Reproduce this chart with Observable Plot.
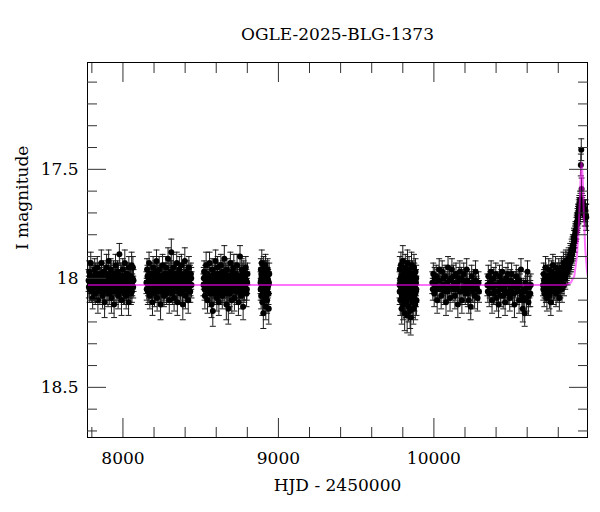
<!DOCTYPE html>
<html><head><meta charset="utf-8">
<script src="https://cdn.jsdelivr.net/npm/d3@7"></script>
<script src="https://cdn.jsdelivr.net/npm/@observablehq/plot@0.6"></script>
<style>body{margin:0;background:#fff}</style>
</head><body><div id="chart"></div>
<script>
const titleText = "OGLE-2025-BLG-1373";
const xLabelText = "HJD - 2450000";
const yLabelText = "I magnitude";

// [HJD-2450000, I mag, error]
const season1 = [[7779,18.01,.05],[7783,17.97,.05],[7786,18.05,.06],[7790,18.02,.05],[7793,17.93,.05],[7797,18.06,.05],[7801,18.00,.06],[7805,18.09,.05],[7809,17.99,.05],[7813,18.03,.06],[7818,17.96,.05],[7822,18.07,.05],[7826,18.01,.05],[7830,18.04,.06],[7835,17.95,.05],[7839,18.10,.06],[7843,18.02,.05],[7848,17.98,.05],[7852,18.06,.06],[7856,18.00,.05],[7861,17.93,.06],[7865,18.04,.05],[7869,18.08,.06],[7874,17.97,.05],[7878,18.03,.05],[7882,18.11,.07],[7887,17.99,.05],[7891,18.05,.05],[7895,17.95,.06],[7900,18.02,.05],[7904,18.07,.06],[7908,17.92,.05],[7913,18.01,.05],[7917,18.04,.06],[7921,17.96,.05],[7926,18.09,.07],[7930,18.00,.05],[7934,18.05,.05],[7939,17.98,.06],[7943,18.12,.06],[7947,18.03,.05],[7952,17.94,.05],[7956,18.06,.06],[7960,18.01,.05],[7965,17.97,.05],[7969,18.08,.06],[7973,18.02,.05],[7977,17.89,.05],[7982,18.04,.05],[7986,17.99,.06],[7991,18.10,.07],[7995,18.03,.05],[7999,17.96,.05],[8004,18.06,.06],[8008,18.01,.05],[8012,17.93,.06],[8017,18.05,.05],[8021,18.08,.06],[8025,17.98,.05],[8030,18.02,.05],[8036,18.11,.06],[8038,17.95,.05],[8043,18.04,.05],[8047,18.00,.06],[8051,18.07,.05],[8056,17.94,.06],[8060,18.03,.05],[8064,17.95,.05],[8068,18.01,.05]];
const season1b = [[7781,18.04,.05],[7788,17.99,.05],[7795,18.02,.05],[7803,18.05,.05],[7811,18.00,.05],[7816,18.06,.05],[7824,17.98,.05],[7833,18.03,.05],[7841,18.06,.05],[7846,17.99,.05],[7854,18.03,.05],[7859,18.05,.05],[7863,17.98,.05],[7871,18.02,.05],[7876,18.06,.05],[7885,18.01,.05],[7893,17.98,.05],[7898,18.05,.05],[7906,18.03,.05],[7911,17.99,.05],[7915,18.07,.05],[7919,18.02,.05],[7924,17.98,.05],[7928,18.04,.05],[7937,18.01,.05],[7941,18.06,.05],[7945,17.99,.05],[7950,18.03,.05],[7958,18.00,.05],[7963,18.05,.05],[7967,18.02,.05],[7971,17.98,.05],[7975,18.06,.05],[7980,18.01,.05],[7984,18.03,.05],[7989,17.99,.05],[7993,18.05,.05],[7997,18.02,.05],[8002,17.99,.05],[8006,18.04,.05],[8010,18.07,.05],[8015,18.00,.05],[8019,18.03,.05],[8023,18.05,.05],[8027,17.98,.05],[8032,18.04,.05],[8040,18.01,.05],[8045,18.06,.05],[8049,17.99,.05],[8053,18.03,.05],[8058,18.06,.05],[8062,18.00,.05],[8066,18.04,.05]];
const season2 = [[8151,18.02,.05],[8155,17.96,.05],[8160,18.06,.06],[8164,18.00,.05],[8168,17.93,.05],[8173,18.08,.06],[8177,18.03,.05],[8181,17.98,.05],[8186,18.05,.06],[8190,18.11,.06],[8194,17.95,.05],[8199,18.01,.05],[8203,18.07,.06],[8207,17.97,.05],[8212,18.04,.05],[8216,17.92,.05],[8220,18.09,.06],[8225,18.00,.05],[8229,18.03,.05],[8233,17.96,.06],[8238,18.06,.05],[8242,18.12,.07],[8246,17.99,.05],[8251,18.02,.05],[8255,17.94,.05],[8259,18.05,.06],[8264,18.08,.05],[8268,17.98,.05],[8272,18.01,.06],[8277,17.95,.05],[8281,18.07,.05],[8285,18.03,.06],[8290,17.91,.05],[8294,18.00,.05],[8298,18.10,.06],[8303,17.97,.05],[8307,18.04,.05],[8311,17.88,.06],[8316,18.06,.05],[8320,18.01,.05],[8324,17.95,.06],[8329,18.09,.06],[8333,18.02,.05],[8337,17.98,.05],[8342,18.05,.06],[8346,17.93,.05],[8350,18.11,.06],[8355,18.00,.05],[8359,18.03,.05],[8363,17.96,.06],[8368,18.07,.05],[8372,18.01,.05],[8376,17.94,.05],[8381,18.05,.06],[8385,18.12,.07],[8389,17.99,.05],[8394,18.03,.05],[8398,17.92,.06],[8402,18.08,.06],[8407,18.01,.05],[8411,17.97,.05],[8415,18.04,.06],[8420,18.10,.06],[8424,17.95,.05],[8428,18.02,.05],[8433,18.06,.05],[8437,17.98,.05],[8441,18.03,.06]];
const season2b = [[8153,18.05,.05],[8158,17.99,.05],[8162,18.03,.05],[8166,18.06,.05],[8171,18.00,.05],[8175,17.98,.05],[8179,18.04,.05],[8184,18.01,.05],[8188,18.06,.05],[8192,17.99,.05],[8197,18.04,.05],[8201,18.02,.05],[8205,17.98,.05],[8210,18.06,.05],[8214,18.01,.05],[8218,18.04,.05],[8223,17.98,.05],[8227,18.06,.05],[8231,18.02,.05],[8236,17.99,.05],[8240,18.04,.05],[8244,18.01,.05],[8249,18.06,.05],[8253,17.99,.05],[8257,18.03,.05],[8262,18.00,.05],[8266,18.05,.05],[8270,18.02,.05],[8275,17.98,.05],[8279,18.04,.05],[8283,18.00,.05],[8288,18.06,.05],[8292,18.03,.05],[8296,17.98,.05],[8301,18.05,.05],[8305,18.01,.05],[8309,17.97,.05],[8314,18.03,.05],[8318,18.07,.05],[8322,18.00,.05],[8327,18.04,.05],[8331,17.98,.05],[8335,18.05,.05],[8340,18.02,.05],[8344,17.99,.05],[8348,18.04,.05],[8353,18.06,.05],[8357,17.98,.05],[8361,18.03,.05],[8366,18.01,.05],[8370,18.05,.05],[8374,17.99,.05],[8379,18.02,.05],[8383,18.06,.05],[8387,18.01,.05],[8392,17.98,.05],[8396,18.04,.05],[8400,18.00,.05],[8405,18.05,.05],[8409,18.02,.05],[8413,17.99,.05],[8418,18.04,.05],[8422,18.01,.05],[8426,18.06,.05],[8431,17.99,.05],[8435,18.03,.05],[8439,18.00,.05]];
const season3 = [[8518,18.03,.05],[8522,17.97,.05],[8527,18.08,.06],[8531,18.01,.05],[8535,17.94,.06],[8540,18.05,.05],[8544,18.10,.06],[8548,17.99,.05],[8553,18.03,.05],[8557,17.93,.05],[8561,18.07,.06],[8566,18.00,.05],[8570,18.12,.06],[8574,17.96,.05],[8578,18.15,.07],[8583,18.04,.05],[8587,17.98,.05],[8591,18.06,.06],[8596,17.92,.05],[8600,18.02,.05],[8604,18.09,.06],[8609,17.95,.05],[8613,18.03,.05],[8617,18.11,.06],[8622,17.98,.05],[8626,18.05,.06],[8630,17.94,.05],[8635,18.01,.05],[8639,18.08,.06],[8643,17.97,.05],[8648,18.04,.05],[8652,17.91,.06],[8656,18.06,.05],[8661,18.00,.05],[8665,18.12,.07],[8669,17.96,.05],[8674,18.03,.05],[8678,18.14,.07],[8682,17.99,.05],[8687,18.07,.06],[8691,17.93,.05],[8695,18.02,.05],[8700,18.10,.06],[8704,17.97,.05],[8708,18.05,.05],[8713,17.95,.06],[8717,18.09,.06],[8721,18.01,.05],[8726,17.98,.05],[8730,18.06,.06],[8734,17.94,.05],[8739,18.03,.05],[8743,18.11,.06],[8747,17.99,.05],[8753,17.90,.05],[8756,18.04,.05],[8760,18.08,.06],[8764,17.96,.05],[8769,18.02,.05],[8773,18.13,.06],[8777,17.97,.05],[8782,18.05,.05],[8786,18.00,.06],[8790,17.95,.05],[8795,18.07,.06],[8799,18.02,.05]];
const season3b = [[8520,18.00,.05],[8525,18.05,.05],[8529,17.99,.05],[8533,18.04,.05],[8538,18.01,.05],[8542,17.98,.05],[8546,18.06,.05],[8551,18.02,.05],[8555,18.05,.05],[8559,17.99,.05],[8564,18.04,.05],[8568,18.01,.05],[8572,18.06,.05],[8576,18.00,.05],[8581,18.03,.05],[8585,18.07,.05],[8589,17.99,.05],[8594,18.04,.05],[8598,18.01,.05],[8602,18.06,.05],[8607,17.98,.05],[8611,18.05,.05],[8615,18.02,.05],[8620,18.07,.05],[8624,18.00,.05],[8628,18.04,.05],[8633,17.98,.05],[8637,18.05,.05],[8641,18.02,.05],[8646,17.99,.05],[8650,18.06,.05],[8654,18.03,.05],[8659,17.98,.05],[8663,18.04,.05],[8667,18.01,.05],[8672,18.07,.05],[8676,18.02,.05],[8680,17.99,.05],[8685,18.05,.05],[8689,18.01,.05],[8693,18.06,.05],[8698,17.99,.05],[8702,18.03,.05],[8706,18.00,.05],[8711,18.05,.05],[8715,18.02,.05],[8719,17.98,.05],[8724,18.04,.05],[8728,18.01,.05],[8732,18.06,.05],[8737,17.99,.05],[8741,18.04,.05],[8745,18.02,.05],[8750,18.06,.05],[8758,18.00,.05],[8762,18.03,.05],[8767,17.98,.05],[8771,18.05,.05],[8775,18.01,.05],[8780,18.06,.05],[8784,17.99,.05],[8788,18.03,.05],[8793,18.01,.05],[8797,18.05,.05],[8801,17.98,.05]];
const season4 = [[8885,18.02,.05],[8887,17.96,.05],[8889,18.08,.06],[8891,18.00,.05],[8893,17.93,.06],[8895,18.05,.05],[8897,18.11,.06],[8899,17.98,.05],[8901,18.03,.05],[8903,18.16,.07],[8905,17.95,.05],[8907,18.06,.06],[8909,18.01,.05],[8911,17.97,.05],[8913,18.09,.06],[8915,18.04,.05],[8917,17.94,.05],[8919,18.13,.06],[8921,18.00,.05],[8923,18.06,.05],[8925,17.99,.06],[8927,18.10,.06],[8929,18.02,.05],[8931,17.96,.05],[8933,18.07,.06],[8935,18.03,.05],[8938,18.14,.07],[8941,17.98,.05]];
const season4b = [[8886,18.05,.05],[8888,18.01,.05],[8890,17.98,.05],[8892,18.04,.05],[8894,18.02,.05],[8896,17.99,.05],[8898,18.06,.05],[8900,18.01,.05],[8902,18.04,.05],[8904,17.99,.05],[8906,18.03,.05],[8908,18.07,.05],[8910,18.00,.05],[8912,18.05,.05],[8914,18.02,.05],[8916,17.98,.05],[8918,18.04,.05],[8920,18.01,.05],[8922,18.08,.05],[8924,18.03,.05],[8926,17.97,.05],[8928,18.05,.05],[8930,18.00,.05],[8932,18.04,.05],[8934,18.01,.05],[8936,18.07,.05],[8939,18.02,.05]];
const season5 = [[9779,18.03,.06],[9781,17.96,.06],[9784,18.10,.07],[9786,18.00,.06],[9788,17.94,.06],[9791,18.07,.07],[9793,18.14,.07],[9795,17.99,.06],[9798,18.05,.06],[9800,17.92,.07],[9802,18.12,.07],[9805,18.02,.06],[9807,17.97,.06],[9809,18.08,.07],[9812,18.16,.08],[9814,18.01,.06],[9816,17.95,.06],[9819,18.06,.07],[9821,18.11,.07],[9823,17.98,.06],[9826,18.04,.06],[9828,18.17,.08],[9830,17.93,.06],[9833,18.09,.07],[9835,18.00,.06],[9837,18.13,.07],[9840,17.96,.06],[9842,18.06,.07],[9844,18.02,.06],[9847,18.15,.08],[9849,17.99,.06],[9851,18.18,.08],[9854,18.07,.07],[9856,17.94,.06],[9858,18.03,.06],[9861,18.11,.07],[9863,17.98,.06],[9865,18.05,.06],[9868,18.14,.07],[9870,18.01,.06],[9872,17.95,.06],[9875,18.08,.07],[9877,18.03,.06],[9880,18.12,.07],[9882,17.97,.06],[9884,18.06,.07],[9886,18.00,.06],[9888,18.10,.07]];
const season5b = [[9780,18.06,.06],[9783,18.01,.06],[9787,18.04,.06],[9790,17.99,.06],[9794,18.08,.06],[9797,18.02,.06],[9801,18.05,.06],[9804,17.98,.06],[9808,18.03,.06],[9811,18.07,.06],[9815,18.00,.06],[9818,18.10,.06],[9822,18.04,.06],[9825,17.99,.06],[9829,18.06,.06],[9832,18.02,.06],[9836,18.08,.06],[9839,18.03,.06],[9843,17.98,.06],[9846,18.05,.06],[9850,18.01,.06],[9853,18.09,.06],[9857,18.04,.06],[9860,17.99,.06],[9864,18.07,.06],[9867,18.02,.06],[9871,18.05,.06],[9874,17.99,.06],[9878,18.04,.06],[9881,18.07,.06],[9885,18.02,.06],[9887,18.05,.06]];
const season6 = [[9990,18.02,.05],[9996,17.98,.05],[10002,18.07,.06],[10009,18.03,.05],[10015,17.99,.05],[10021,18.10,.06],[10028,18.01,.05],[10034,17.96,.05],[10040,18.05,.06],[10047,18.08,.06],[10053,17.97,.05],[10059,18.03,.05],[10066,18.06,.06],[10072,17.99,.05],[10078,18.11,.06],[10085,18.02,.05],[10091,17.95,.05],[10097,18.04,.06],[10104,18.09,.06],[10110,18.00,.05],[10116,17.96,.05],[10123,18.05,.06],[10129,18.02,.05],[10135,18.08,.06],[10142,17.98,.05],[10148,18.04,.05],[10154,18.12,.06],[10161,18.00,.05],[10167,17.97,.05],[10173,18.06,.06],[10180,18.10,.06],[10186,18.01,.05],[10192,17.98,.05],[10199,18.05,.06],[10205,18.03,.05],[10211,17.96,.05],[10218,18.07,.06],[10224,18.10,.06],[10230,18.02,.05],[10237,18.13,.06],[10243,17.99,.05],[10249,18.05,.06],[10256,18.02,.05],[10262,18.08,.06],[10268,17.97,.05],[10275,18.04,.05],[10281,18.09,.06],[10287,18.02,.05]];
const season6b = [[9993,18.05,.05],[10005,18.00,.05],[10012,18.05,.05],[10025,18.04,.05],[10037,18.01,.05],[10050,18.04,.05],[10062,18.00,.05],[10075,18.05,.05],[10088,18.06,.05],[10100,18.01,.05],[10113,18.04,.05],[10126,17.99,.05],[10139,18.05,.05],[10151,18.02,.05],[10164,18.06,.05],[10177,18.00,.05],[10189,18.04,.05],[10202,18.07,.05],[10214,18.01,.05],[10227,18.05,.05],[10240,18.03,.05],[10252,18.06,.05],[10265,18.01,.05],[10278,18.05,.05],[10290,18.06,.05]];
const season7 = [[10344,18.03,.05],[10350,17.99,.05],[10356,18.07,.06],[10362,18.02,.05],[10368,17.97,.05],[10374,18.10,.06],[10380,18.04,.05],[10386,18.00,.05],[10392,18.06,.06],[10398,17.98,.05],[10404,18.09,.06],[10410,18.03,.05],[10416,18.12,.06],[10422,17.99,.05],[10428,18.05,.06],[10434,18.01,.05],[10440,17.97,.05],[10446,18.08,.06],[10452,18.04,.05],[10458,18.11,.06],[10464,18.00,.05],[10470,18.06,.06],[10476,17.98,.05],[10482,18.03,.05],[10488,18.09,.06],[10494,18.05,.05],[10500,17.98,.05],[10506,18.07,.06],[10512,18.02,.05],[10518,18.12,.06],[10524,18.04,.05],[10530,17.99,.05],[10536,18.06,.06],[10542,18.01,.05],[10548,18.10,.06],[10554,18.03,.05],[10560,17.96,.05],[10566,18.08,.06],[10572,18.14,.06],[10578,18.05,.05],[10584,18.16,.06],[10590,18.02,.05],[10596,18.09,.06],[10602,17.97,.05],[10608,18.11,.06],[10614,18.04,.05],[10620,18.07,.06]];
const season7b = [[10347,18.06,.05],[10359,18.04,.05],[10371,18.01,.05],[10383,18.07,.05],[10395,18.03,.05],[10407,18.06,.05],[10419,18.02,.05],[10431,18.08,.05],[10443,18.03,.05],[10455,18.06,.05],[10467,18.02,.05],[10479,18.07,.05],[10491,18.01,.05],[10503,18.04,.05],[10515,18.07,.05],[10527,18.02,.05],[10539,18.05,.05],[10551,18.01,.05],[10563,18.06,.05],[10575,18.10,.05],[10587,18.06,.05],[10599,18.04,.05],[10611,18.08,.05],[10623,18.03,.05]];
const season8 = [[10702,18.03,.05],[10706,17.98,.05],[10710,18.07,.06],[10714,18.01,.05],[10718,17.95,.05],[10722,18.05,.06],[10727,18.09,.06],[10731,17.99,.05],[10735,18.03,.05],[10739,17.96,.05],[10743,18.08,.06],[10748,18.01,.05],[10752,18.11,.06],[10756,17.97,.05],[10760,18.04,.05],[10765,17.94,.05],[10769,18.06,.06],[10773,18.00,.05],[10777,18.02,.05],[10782,17.95,.05],[10786,18.07,.06],[10790,18.03,.05],[10794,17.98,.05],[10799,18.05,.05],[10803,17.96,.05],[10807,18.09,.06],[10811,18.00,.05],[10816,18.02,.05],[10820,17.95,.05],[10824,18.05,.06],[10828,17.98,.05],[10833,17.93,.05],[10837,18.03,.05],[10841,17.96,.05],[10845,18.00,.05],[10849,17.92,.05],[10853,17.97,.05],[10857,17.94,.05],[10860,17.97,.06],[10865,17.93,.05],[10870,17.95,.05],[10875,17.92,.05],[10880,17.90,.05],[10884,17.91,.05],[10888,17.88,.05],[10892,17.86,.05],[10896,17.87,.05],[10899,17.84,.04],[10902,17.82,.04],[10905,17.83,.05],[10908,17.80,.04],[10911,17.78,.04],[10914,17.79,.04],[10917,17.76,.04],[10920,17.74,.04],[10922,17.75,.04],[10924,17.72,.04],[10926,17.73,.04],[10928,17.70,.04],[10930,17.71,.04],[10932,17.68,.04],[10934,17.69,.04],[10936,17.66,.04],[10938,17.67,.04],[10940,17.64,.04],[10942,17.66,.04],[10945,17.48,.05],[10948,17.41,.05],[10950,17.59,.05],[10952,17.65,.04],[10955,17.68,.04],[10958,17.66,.04],[10962,17.70,.04],[10966,17.68,.04],[10970,17.71,.05],[10975,17.69,.05],[10980,17.72,.06]];
const season8b = [[10704,18.05,.05],[10708,18.01,.05],[10712,18.04,.05],[10716,18.00,.05],[10720,18.06,.05],[10725,18.02,.05],[10729,18.05,.05],[10733,17.99,.05],[10737,18.04,.05],[10741,18.01,.05],[10746,18.06,.05],[10750,18.02,.05],[10754,17.99,.05],[10758,18.05,.05],[10763,18.01,.05],[10767,18.03,.05],[10771,17.98,.05],[10775,18.05,.05],[10780,18.01,.05],[10784,18.04,.05],[10788,17.99,.05],[10792,18.02,.05],[10797,18.06,.05],[10801,18.00,.05],[10805,18.03,.05],[10809,17.98,.05],[10814,18.04,.05],[10818,18.00,.05],[10822,18.02,.05],[10826,17.97,.05],[10831,18.00,.05],[10835,17.96,.05],[10839,17.99,.05],[10843,17.95,.05],[10847,17.98,.05],[10851,17.94,.05],[10855,17.96,.05],[10862,17.94,.05],[10867,17.91,.05],[10872,17.93,.05],[10877,17.89,.05],[10882,17.92,.05],[10886,17.87,.05],[10890,17.89,.05],[10894,17.85,.05],[10898,17.86,.05],[10901,17.81,.04],[10907,17.82,.04],[10910,17.79,.04],[10916,17.78,.04],[10919,17.75,.04],[10923,17.74,.04],[10927,17.71,.04],[10931,17.70,.04],[10935,17.67,.04],[10939,17.69,.04],[10943,17.65,.04],[10954,17.67,.04],[10960,17.69,.04],[10968,17.70,.04],[10978,17.71,.05]];

// model curve
const modelT = [7772, 10850, 10880, 10903, 10920, 10931, 10939, 10945, 10949, 10953, 10958, 10964, 10973, 10984, 10992];
const modelMag = [18.03, 18.03, 18.02, 17.99, 17.90, 17.78, 17.63, 17.52, 17.47, 17.49, 17.55, 17.70, 17.86, 17.96, 18.0];

const xDomain = [7772, 10988];
const yDomain = [17.01, 18.73];
const xMajorTicks = [8000, 9000, 10000];
const xMinorTicks = [7800, 8200, 8400, 8600, 8800, 9200, 9400, 9600, 9800, 10200, 10400, 10600, 10800];
const yMajorTicks = [17.5, 18, 18.5];
const yMinorTicks = [17.1, 17.2, 17.3, 17.4, 17.6, 17.7, 17.8, 17.9, 18.1, 18.2, 18.3, 18.4, 18.6, 18.7];

const points = [...season1, ...season1b, ...season2, ...season2b, ...season3, ...season3b, ...season4, ...season4b,
  ...season5, ...season5b, ...season6, ...season6b, ...season7, ...season7b, ...season8, ...season8b]
  .map(([t, m, e]) => ({t, m, e}));
const model = modelT.map((t, i) => ({t, m: modelMag[i]}));

const cap = {draw(ctx, size) { const r = Math.sqrt(size / Math.PI); ctx.moveTo(-r, 0); ctx.lineTo(r, 0); }};
const tickStroke = "#333";
const fmt = d => String(d);

const chart = Plot.plot({
  width: 600, height: 512,
  marginLeft: 87, marginRight: 13, marginTop: 62, marginBottom: 75,
  style: {fontFamily: "DejaVu Serif", fontSize: "17px", background: "#fff", color: "#000"},
  x: {domain: xDomain},
  y: {domain: yDomain, reverse: true},
  marks: [
    Plot.ruleX(points, {x: "t", y1: d => d.m - d.e, y2: d => d.m + d.e, stroke: "#1a1a1a", strokeWidth: 1}),
    Plot.dot(points, {x: "t", y: d => d.m - d.e, symbol: cap, r: 3, stroke: "#1a1a1a", fill: "none", strokeWidth: 1}),
    Plot.dot(points, {x: "t", y: d => d.m + d.e, symbol: cap, r: 3, stroke: "#1a1a1a", fill: "none", strokeWidth: 1}),
    Plot.dot(points, {x: "t", y: "m", r: 3, fill: "#000", stroke: "none"}),
    Plot.line(model, {x: "t", y: "m", stroke: "#ff00ff", strokeOpacity: 0.55, strokeWidth: 2, clip: true}),
    Plot.frame({stroke: "#000", strokeWidth: 1}),
    Plot.axisX(xMajorTicks, {anchor: "bottom", tickSize: -19, fill: "none", stroke: tickStroke, label: null}),
    Plot.axisX(xMinorTicks, {anchor: "bottom", tickSize: -10, fill: "none", stroke: tickStroke, label: null}),
    Plot.axisX(xMajorTicks, {anchor: "top", tickSize: -19, fill: "none", stroke: tickStroke, label: null}),
    Plot.axisX(xMinorTicks, {anchor: "top", tickSize: -10, fill: "none", stroke: tickStroke, label: null}),
    Plot.axisY(yMajorTicks, {anchor: "left", tickSize: -19, fill: "none", stroke: tickStroke, label: null}),
    Plot.axisY(yMinorTicks, {anchor: "left", tickSize: -10, fill: "none", stroke: tickStroke, label: null}),
    Plot.axisY(yMajorTicks, {anchor: "right", tickSize: -19, fill: "none", stroke: tickStroke, label: null}),
    Plot.axisY(yMinorTicks, {anchor: "right", tickSize: -10, fill: "none", stroke: tickStroke, label: null}),
    Plot.axisX(xMajorTicks, {anchor: "bottom", tickSize: 0, tickPadding: 14, tickFormat: fmt, label: null, fontSize: 17}),
    Plot.axisY(yMajorTicks, {anchor: "left", tickSize: 0, tickPadding: 9, tickFormat: fmt, label: null, fontSize: 17}),
    Plot.text([xLabelText], {frameAnchor: "bottom", dy: 48, lineAnchor: "middle", fontSize: 17}),
    Plot.text([yLabelText], {frameAnchor: "left", dx: -65, rotate: -90, lineAnchor: "middle", fontSize: 17}),
    Plot.text([titleText], {frameAnchor: "top", dy: -28, lineAnchor: "middle", fontSize: 17})
  ]
});
document.getElementById("chart").appendChild(chart);
</script>
</body></html>
